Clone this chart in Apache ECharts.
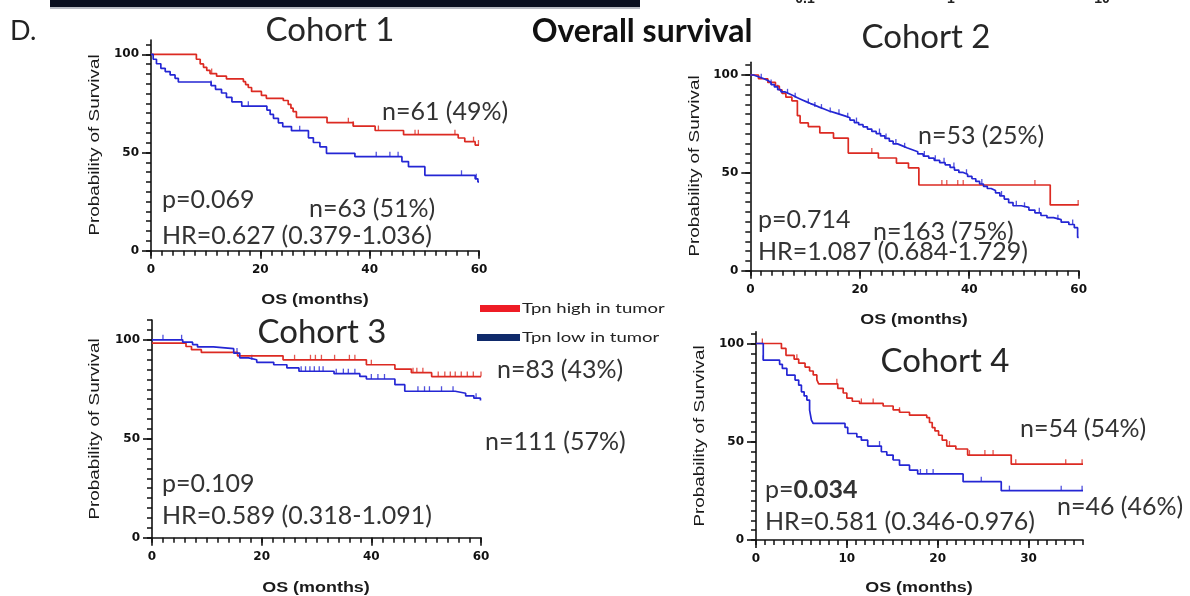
<!DOCTYPE html>
<html>
<head>
<meta charset="utf-8">
<script src="https://cdn.jsdelivr.net/npm/echarts@6/dist/echarts.min.js"></script>
<style>
  html, body { margin: 0; padding: 0; background: #fff; }
  #chart { width: 1190px; height: 596px; }
</style>
</head>
<body>
<div id="chart"></div>
<script>
// Kaplan–Meier curves: [month, % surviving after the event at that month]
const c1High = [[0,100],[8.3,97.5],[9,95.1],[9.6,93.4],[10.2,91.8],[10.8,90.2],[12,88.9],[13.8,87.5],[16.9,86.1],[17.3,84.6],[17.8,83.1],[18.4,81.1],[20.2,79.1],[21.1,77.6],[24.2,76.5],[25.1,74.5],[25.6,72.6],[26,70.8],[26.6,67.9],[32.2,65.2],[37,63.4],[41,61.2],[46.2,59.1],[56.2,57.4],[57.4,55.5],[59.3,53.8],[60,53.8]];
const c1Low = [[0,100],[0.4,97.5],[1,95.2],[1.8,92.9],[2.6,91.2],[3.5,89.5],[4.4,87.8],[5,85.9],[11,84.1],[11.8,82.2],[12.9,80.3],[13.8,78.1],[14.8,75.8],[16.6,73.6],[21.2,71.6],[21.8,69.4],[22.4,67.4],[23.3,65.1],[24.1,63.2],[25.7,61.1],[28.8,57.5],[29.7,55.1],[30.9,52.9],[32.1,49.6],[37.3,47.9],[45.9,45.4],[47.1,42.8],[50.1,38.4],[59.3,36.6],[59.8,35],[60,35]];
const c1HighCens = [11.1,36.1,37,41.6,48.3,48.9,55.6,59,59.9];
const c1LowCens = [11,17.8,27.2,41.2,43.7,45.2,56.8,59.5];

const c2High = [[0,100],[1.5,98.1],[3.2,96.2],[4.6,94.3],[5.3,92.4],[5.8,90.6],[6.5,88.7],[7.6,86.8],[8.6,79.2],[9.1,75.5],[10.6,73.6],[12.7,70.4],[15.2,67.8],[17.9,60.1],[23.4,57.6],[26.7,55],[28.9,52.5],[30.8,43.8],[54.8,33.6],[60,33.6]];
const c2Low = [[0,100],[0.6,99.4],[1.2,98.7],[1.9,98.1],[2.5,97.2],[3.2,96.2],[3.8,95.1],[4.4,93.9],[5,92.5],[5.6,91.4],[6.3,90.4],[7.1,89.4],[7.9,88.4],[8.6,87.4],[9.4,86.4],[10.2,85.4],[11,84.6],[11.8,83.6],[12.6,82.6],[13.5,81.6],[14.4,80.8],[15.4,79.9],[16.4,79],[17.4,78.2],[18.2,77],[19,75.7],[19.8,74.6],[20.6,73.5],[21.4,72.4],[22.2,71.2],[23,70.1],[23.8,68.9],[24.6,67.6],[25.4,66.2],[26.1,64.8],[26.9,63.8],[27.8,62.8],[28.6,61.8],[29.6,60.8],[30.6,59.7],[31.6,58.6],[32.6,57.5],[33.6,56.4],[34.6,55.2],[35.6,54.1],[36.5,52.8],[37.3,51.4],[38.1,50.2],[38.9,49.3],[39.7,48.2],[40.5,47],[41.2,45.6],[41.9,44.3],[42.6,43.1],[43.3,42],[44,41],[44.8,39.8],[45.6,38.2],[46.4,36.6],[47.2,34.8],[48,33.2],[49.5,32.4],[50.9,31],[52,29.6],[53.1,28.2],[54.2,27.1],[55.4,26.1],[56.8,24.8],[58.2,23.6],[59.2,22],[59.8,17],[60,17]];
const c2HighCens = [22.2,35,35.9,37.9,38.9,52,59.9];
const c2LowCens = [2,3.8,5,6.8,8.2,10.6,11.8,13,14.6,16.2,17.8,19.4,23.6,24.8,26.6,28.2,31.8,33.8,35.4,37.2,39.5,42.3,45.9,48.6,50.1,52.8,56.2,58.9];

const c3High = [[0,98.3],[6.2,96.6],[7.2,95],[9,93.6],[15.6,91.9],[23.9,89.9],[39.1,87.4],[44.3,85.2],[47.3,83.4],[51,81.4],[60,81.4]];
const c3Low = [[0,100],[5.6,98.8],[7.4,97.6],[8.3,96.4],[11.2,95.5],[14.9,93.3],[16,90.9],[17.6,89.9],[19.1,88.6],[22.2,87.4],[24.6,85.8],[26.8,84.1],[33.2,82.9],[37.9,81.5],[39.1,80.2],[44.3,77.3],[46.1,74],[55.3,73],[57.2,71.7],[58.7,70.5],[59.9,69.3],[60,69.3]];
const c3HighCens = [26,28.9,29.8,30.9,33.3,36,37,40,47.6,48.3,49.4,52.2,53.4,54.4,55.3,56.4,57.5,58.6,60];
const c3LowCens = [2,5.4,15.5,18.2,27.2,28,28.8,29.6,30.5,31.2,33.6,34.9,35.8,37,40,41.2,42.4,48.5,49.7,50.6,52.8,54.9,59.1];

const c4High = [[0,100],[2.8,97.5],[3.3,94],[4.2,92],[4.7,90],[5.4,88],[5.9,86],[6.3,84],[6.7,81.5],[6.9,79.5],[9,77.2],[9.6,74.8],[10,72.2],[10.6,70.6],[11.4,69.5],[14,68.2],[15.1,66.2],[15.8,65],[16.9,63.5],[18.8,62.3],[19.1,59.8],[19.4,57.2],[19.7,55.5],[20.1,53.3],[20.5,50.8],[21,47.8],[22,46.3],[23.3,43.2],[28.1,38.6],[36,38.6]];
const c4Low = [[0,100],[0.8,91.5],[2.6,89.4],[2.9,87.3],[3.4,83.9],[4.3,81.4],[4.7,78.8],[5,75.4],[5.3,73.3],[5.6,71.2],[5.9,66.1],[6.1,61],[6.3,59.3],[9.8,57.3],[10.1,54.2],[11.1,52.5],[11.6,50.8],[12.3,47.8],[13.8,44.9],[14.4,43.2],[15.1,40.7],[15.8,38.1],[16.9,35.6],[17.8,33.6],[22.8,29.7],[27,25.1],[36,25.1]];
const c4HighCens = [0.7,4.5,8.9,11.6,12.9,15.8,21.3,23.5,25.2,26.1,28.6,34.1,35.9];
const c4LowCens = [0.8,13.6,15.1,18.1,18.8,19.5,24.8,27.9,33.6,35.9];

// Axis labels
const yLabels = [0, 50, 100];
const xLabels60 = [0, 20, 40, 60];
const xLabels36 = [0, 10, 20, 30];

// Per-cohort annotation text
const cohortTitles = ['Cohort 1', 'Cohort 2', 'Cohort 3', 'Cohort 4'];
const highN = ['n=61 (49%)', 'n=53 (25%)', 'n=83 (43%)', 'n=54 (54%)'];
const lowN = ['n=63 (51%)', 'n=163 (75%)', 'n=111 (57%)', 'n=46 (46%)'];
const pValues = ['0.069', '0.714', '0.109', '0.034'];
const hrText = ['HR=0.627 (0.379-1.036)', 'HR=1.087 (0.684-1.729)', 'HR=0.589 (0.318-1.091)', 'HR=0.581 (0.346-0.976)'];
const legendNames = ['Tpn high in tumor', 'Tpn low in tumor'];
const topTickLabels = ['0.1', '1', '10'];

const RED = '#dc2a22';
const BLUE = '#2426d4';
const AXIS = '#111';
const SANS = 'Lato, "Open Sans", sans-serif';

const panels = [
  { grid: { left: 151, top: 40, width: 328, height: 210.7 }, yMax: 107.3, xMax: 60, xStep: 2, xLabels: xLabels60,
    high: c1High, low: c1Low, highCens: c1HighCens, lowCens: c1LowCens },
  { grid: { left: 750.3, top: 62.3, width: 328.4, height: 208.4 }, yMax: 106.5, xMax: 60, xStep: 2, xLabels: xLabels60,
    high: c2High, low: c2Low, highCens: c2HighCens, lowCens: c2LowCens },
  { grid: { left: 152, top: 320, width: 329, height: 217.7 }, yMax: 110, xMax: 60, xStep: 2, xLabels: xLabels60,
    high: c3High, low: c3Low, highCens: c3HighCens, lowCens: c3LowCens },
  { grid: { left: 756, top: 331.7, width: 327, height: 208.3 }, yMax: 106, xMax: 36, xStep: 1, xLabels: xLabels36,
    high: c4High, low: c4Low, highCens: c4HighCens, lowCens: c4LowCens }
];

// Survival level of a step curve at month t (seats censor ticks on the curve)
function survivalAt(steps, t) {
  let p = steps[0][1];
  for (const s of steps) { if (s[0] <= t) p = s[1]; else break; }
  return p;
}

const grids = [], xAxes = [], yAxes = [], series = [];
const tickFont = { fontFamily: 'DejaVu Sans', fontWeight: 'bold', fontSize: 12, color: AXIS };
const clearLabel = { fontFamily: 'DejaVu Sans', fontSize: 12, color: 'rgba(255,255,255,0)' };
const axisLineStyle = { color: AXIS, width: 1.6 };

panels.forEach((p, i) => {
  grids.push(Object.assign({ containLabel: false, outerBoundsMode: 'none' }, p.grid));
  const fineX = [];
  for (let k = 0; k * p.xStep <= p.xMax + 1e-9; k++) fineX.push(k * p.xStep);
  const fineY = [];
  for (let k = 0; k * 5 <= p.yMax; k++) fineY.push(k * 5);

  const base = (dim, max) => ({ type: 'value', gridIndex: i, min: 0, max: max,
    position: dim === 'x' ? 'bottom' : 'left', splitLine: { show: false } });

  // 1) axis lines (the curves use these)
  xAxes.push(Object.assign(base('x', p.xMax), {
    axisLine: { show: true, onZero: false, lineStyle: axisLineStyle },
    axisTick: { show: false }, axisLabel: { show: false } }));
  yAxes.push(Object.assign(base('y', p.yMax), {
    axisLine: { show: true, onZero: false, lineStyle: axisLineStyle },
    axisTick: { show: false }, axisLabel: { show: false } }));
  // 2) fine ticks
  xAxes.push(Object.assign(base('x', p.xMax), {
    axisLine: { show: false },
    axisTick: { show: true, customValues: fineX, length: 5, lineStyle: { color: AXIS, width: 1.5 } },
    axisLabel: Object.assign({ show: true, customValues: p.xLabels, margin: 13 }, clearLabel) }));
  yAxes.push(Object.assign(base('y', p.yMax), {
    axisLine: { show: false },
    axisTick: { show: true, customValues: fineY, length: 5, lineStyle: { color: AXIS, width: 1.5 } },
    axisLabel: Object.assign({ show: true, customValues: yLabels, margin: 12 }, clearLabel) }));
  // 3) labelled, longer ticks
  xAxes.push(Object.assign(base('x', p.xMax), {
    axisLine: { show: false },
    axisTick: { show: true, customValues: p.xLabels, length: 8, lineStyle: { color: AXIS, width: 1.6 } },
    axisLabel: Object.assign({ show: true, customValues: p.xLabels, margin: 13 }, tickFont) }));
  yAxes.push(Object.assign(base('y', p.yMax), {
    axisLine: { show: false },
    axisTick: { show: true, customValues: yLabels, length: 9, lineStyle: { color: AXIS, width: 1.6 } },
    axisLabel: Object.assign({ show: true, customValues: yLabels, margin: 12 }, tickFont) }));

  const xi = 3 * i, yi = 3 * i;
  [[p.high, p.highCens, RED, legendNames[0]], [p.low, p.lowCens, BLUE, legendNames[1]]].forEach(([steps, cens, color, name]) => {
    series.push({ type: 'line', name: name, xAxisIndex: xi, yAxisIndex: yi, data: steps, step: 'end',
      showSymbol: false, symbol: 'none', animation: false, silent: true,
      lineStyle: { color: color, width: 1.7 } });
    series.push({ type: 'scatter', name: name, xAxisIndex: xi, yAxisIndex: yi,
      data: cens.map(t => [t, survivalAt(steps, t)]),
      symbol: 'rect', symbolSize: [1.3, 5], symbolOffset: [0, -2.5], animation: false, silent: true,
      itemStyle: { color: color } });
  });
});

// Text and decorations
function txt(x, y, text, o) {
  o = o || {};
  return {
    type: 'text', x: x, y: y, scaleX: o.scaleX || 1, rotation: o.rotation || 0, silent: true, z: 10,
    style: {
      text: text, fontFamily: o.fontFamily || SANS, fontSize: o.fontSize || 25, fontWeight: o.fontWeight || 'normal',
      fill: o.fill || '#333', align: o.align || 'left', textAlign: o.align || 'left',
      verticalAlign: 'middle', textVerticalAlign: 'middle', rich: o.rich
    }
  };
}

const graphics = [];
// strip from the panel above
graphics.push({ type: 'rect', shape: { x: 50, y: 0, width: 590, height: 7 }, style: { fill: '#0a0f1f' }, silent: true });
graphics.push({ type: 'rect', shape: { x: 50, y: 7, width: 590, height: 2 }, style: { fill: '#b9bcc4' }, silent: true });
[[805, topTickLabels[0]], [951, topTickLabels[1]], [1102, topTickLabels[2]]].forEach(([x, t]) => {
  graphics.push({ type: 'text', x: x, y: 6, silent: true,
    style: { text: t, fontFamily: 'Liberation Sans', fontWeight: 'bold', fontSize: 14, fill: '#222',
      align: 'center', textAlign: 'center', verticalAlign: 'bottom', textVerticalAlign: 'bottom' } });
});

graphics.push(txt(10, 31, 'D.', { fontSize: 27, fill: '#222' }));
graphics.push(txt(642, 32, 'Overall survival', { fontSize: 32, fontWeight: 'bold', fill: '#111', align: 'center' }));

const titlePos = [[330, 30], [926, 37], [322, 332], [945, 361]];
const highPos = [[382, 112], [918, 136], [497, 370], [1020, 429]];
const lowPos = [[309, 209], [873, 232], [485, 442], [1057, 507]];
const pPos = [[162, 200], [758, 220], [162, 484], [765, 490]];
const hrPos = [[162, 236], [758, 252], [162, 516], [765, 522]];
const yTitlePos = [[95, 145], [695, 166], [95, 429], [700, 436]];
const xTitlePos = [[315, 300], [914, 320], [316, 588], [919, 588]];

panels.forEach((p, i) => {
  graphics.push(txt(titlePos[i][0], titlePos[i][1], cohortTitles[i], { fontSize: 33, fill: '#262626', align: 'center' }));
  graphics.push(txt(highPos[i][0], highPos[i][1], highN[i], { fontSize: 25 }));
  graphics.push(txt(lowPos[i][0], lowPos[i][1], lowN[i], { fontSize: 25 }));
  const bold = i === 3;
  graphics.push(txt(pPos[i][0], pPos[i][1], bold ? 'p={b|' + pValues[i] + '}' : 'p=' + pValues[i], {
    fontSize: 25,
    rich: bold ? { b: { fontFamily: SANS, fontSize: 25, fontWeight: 'bold', fill: '#333' } } : undefined
  }));
  graphics.push(txt(hrPos[i][0], hrPos[i][1], hrText[i], { fontSize: 25 }));
  graphics.push(txt(yTitlePos[i][0], yTitlePos[i][1], 'Probability of Survival', {
    fontFamily: 'Liberation Sans', fontSize: 14.5, fill: '#1a1a1a', align: 'center', rotation: Math.PI / 2, scaleX: 1.3 }));
  graphics.push(txt(xTitlePos[i][0], xTitlePos[i][1], 'OS (months)', {
    fontFamily: 'Liberation Sans', fontSize: 14, fontWeight: 'bold', fill: '#1a1a1a', align: 'center', scaleX: 1.28 }));
});

// legend
graphics.push({ type: 'rect', shape: { x: 480, y: 305, width: 40, height: 7 }, style: { fill: '#ee1c25' }, silent: true });
graphics.push({ type: 'rect', shape: { x: 477, y: 334, width: 43, height: 7 }, style: { fill: '#0f2a6b' }, silent: true });
graphics.push(txt(522, 309, legendNames[0], { fontSize: 12.5, fill: '#222', scaleX: 1.48 }));
graphics.push(txt(522, 338, legendNames[1], { fontSize: 12.5, fill: '#222', scaleX: 1.48 }));

const chart = echarts.init(document.getElementById('chart'), null, { renderer: 'canvas' });
chart.setOption({
  backgroundColor: '#ffffff',
  animation: false,
  grid: grids,
  xAxis: xAxes,
  yAxis: yAxes,
  series: series,
  graphic: { elements: graphics }
});
</script>
</body>
</html>
